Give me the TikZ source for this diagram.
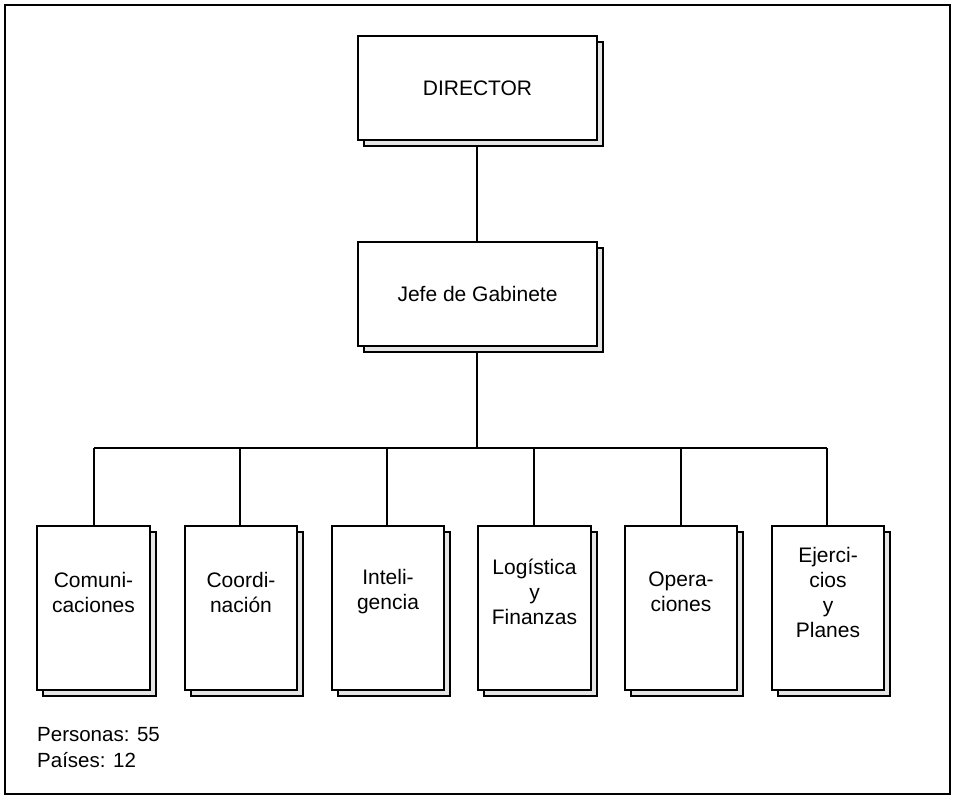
\documentclass[tikz,border=0pt]{standalone}
\usepackage{fontspec}
\setmainfont{Liberation Sans}
\begin{document}
\begin{tikzpicture}[x=1pt,y=-1pt,
  box/.style={draw=black,line width=1.4pt,fill=white,minimum width=#1},
  shadowbox/.style={draw=black,line width=1.2pt,fill=black!10},
  conn/.style={line width=1.1pt},
  lbl/.style={font=\fontsize{21}{25}\selectfont,align=center},
  note/.style={font=\fontsize{20.5}{25}\selectfont,anchor=west,inner sep=0pt}]
\useasboundingbox (0,0) rectangle (954,797);
\draw[line width=2.5pt] (5,5) rectangle (950,794);
% shadows
\foreach \l/\t/\r/\b in {358/36/597/140, 358/242/597/346,
  37/526/150/690, 185/526/297/690, 332/526/444/690, 478/526/591/690, 625/526/737/690, 772/526/884/690}{
  \draw[shadowbox] (\l+6,\t+6) rectangle (\r+6,\b+6);
  \draw[box=0pt] (\l,\t) rectangle (\r,\b);
}
\node[lbl] (dir) at (477.5,88) {DIRECTOR};
\node[lbl] (jefe) at (477.5,294) {Jefe de Gabinete};
\coordinate (dirb) at (477,146);
\coordinate (jeft) at (477,242);
\coordinate (jefb) at (477,352);
\coordinate (bus) at (477,448);
\draw[conn] (dirb) -- (jeft);
\draw[conn] (jefb) -- (bus);
\coordinate (busl) at (94,448);
\coordinate (busr) at (827,448);
\draw[conn] (busl) -- (busr);
\node[lbl] (c1) at (93.5,592) {Comuni-\\caciones};
\node[lbl] (c2) at (241,592) {Coordi-\\nación};
\node[lbl] (c3) at (388,592) {Inteli-\\gencia};
\node[lbl] (c4) at (534.5,592) {Logística\\y\\Finanzas};
\node[lbl] (c5) at (681,592) {Opera-\\ciones};
\node[lbl] (c6) at (828,592) {Ejerci-\\cios\\y\\Planes};
\foreach \x in {94,240,387,534,681,827}{
  \draw[conn] (\x,448) -- (\x,526);
}
\node[note] (p1) at (37,735) {Personas: 55};
\node[note] (p2) at (37,760) {Países: 12};
\end{tikzpicture}
\end{document}
